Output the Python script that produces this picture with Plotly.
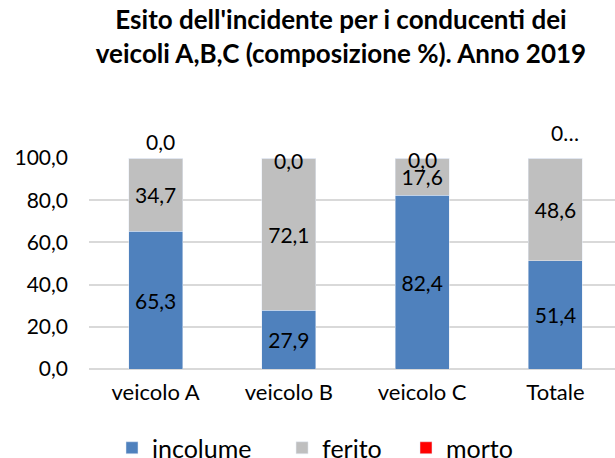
import plotly.graph_objects as go

categories = ["veicolo A", "veicolo B", "veicolo C", "Totale"]
incolume = [65.3, 27.9, 82.4, 51.4]
ferito = [34.7, 72.1, 17.6, 48.6]
morto = [0.0, 0.0, 0.0, 0.0]
morto_labels = ["0,0", "0,0", "0,0", "0…"]
series_names = ["incolume", "ferito", "morto"]
y_ticks = [0, 20, 40, 60, 80, 100]

FONT = "Lato"
BLUE = "#4F81BD"
GREY = "#BFBFBF"
RED = "#FF0000"

fig = go.Figure()
fig.add_trace(go.Bar(
    x=categories, y=incolume, name=series_names[0] + "\u00a0" * 4,
    marker=dict(color=BLUE), width=0.405,
    text=[f"{v:.1f}".replace(".", ",") for v in incolume],
    textposition="inside", insidetextanchor="middle",
    textfont=dict(family=FONT, size=21, color="#000000"),
    constraintext="none",
))
fig.add_trace(go.Bar(
    x=categories, y=ferito, name=series_names[1] + "\u00a0" * 3,
    marker=dict(color=GREY), width=0.405,
    text=[f"{v:.1f}".replace(".", ",") for v in ferito],
    textposition="inside", insidetextanchor="middle",
    textfont=dict(family=FONT, size=21, color="#000000"),
    constraintext="none",
))
fig.add_trace(go.Bar(
    x=categories, y=morto, name=series_names[2],
    marker=dict(color=RED), width=0.405,
    textposition="none",
))

# morto labels (Excel auto-placed above the stack)
label_yshift = [17, -2, -1, 26]
label_xshift = [5, 0, 0, 10]
for i, cat in enumerate(categories):
    top = incolume[i] + ferito[i] + morto[i]
    fig.add_annotation(
        x=cat, y=top, text=morto_labels[i], showarrow=False,
        xanchor="center", yanchor="middle",
        yshift=label_yshift[i], xshift=label_xshift[i],
        font=dict(family=FONT, size=21, color="#000000"),
    )

fig.update_layout(
    width=615, height=458,
    barmode="stack",
    separators=",.",
    paper_bgcolor="white", plot_bgcolor="white",
    margin=dict(l=89, r=0, t=158, b=89, autoexpand=False),
    title=dict(
        text="<b>Esito dell'incidente per i conducenti dei<br>veicoli A,B,C (composizione %). Anno 2019</b>",
        x=341 / 615, xanchor="center", xref="container",
        y=1 - 29 / 458, yanchor="top", yref="container",
        font=dict(family=FONT, size=26, color="#000000"),
    ),
    xaxis=dict(
        range=[-0.5, 3.447], showgrid=False, showline=False,
        tickfont=dict(family=FONT, size=22, color="#000000"),
        ticks="", ticklabelstandoff=8,
    ),
    yaxis=dict(
        range=[0, 100], tickvals=y_ticks, tickformat=".1f",
        showgrid=True, gridcolor="#D9D9D9", gridwidth=1.5,
        zeroline=True, zerolinecolor="#D9D9D9", zerolinewidth=1.5,
        showline=False, ticks="", ticklabelstandoff=20,
        tickfont=dict(family=FONT, size=21, color="#000000"),
    ),
    legend=dict(
        orientation="h", xref="container", yref="container",
        x=112 / 615, xanchor="left", y=1 - 425 / 458, yanchor="top",
        font=dict(family=FONT, size=25, color="#000000"),
        itemclick=False, traceorder="normal",
    ),
    bargap=0.6,
)

fig.write_html(
    "out.html",
    config={"displayModeBar": False},
    post_script="document.body.style.margin='0';document.body.style.overflow='hidden';",
)
